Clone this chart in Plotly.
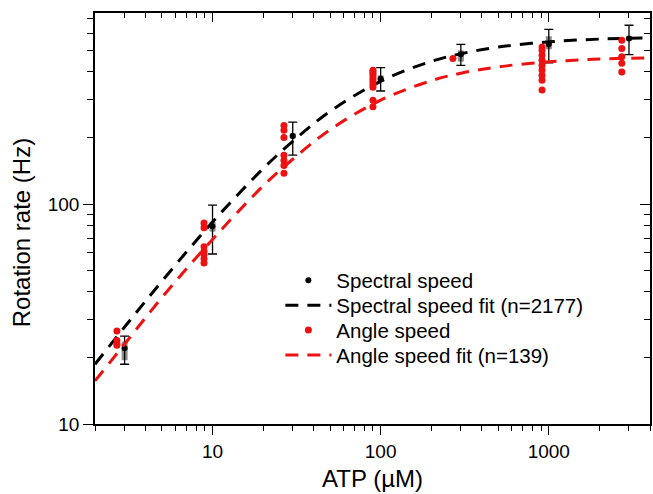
import plotly.graph_objects as go
import math

# ---------------- data ----------------
atp_spec = [3, 10, 30, 100, 300, 1000, 3000]
spec_mean = [22.1, 79.4, 204, 372, 481, 533, 566]
spec_err_plus = [3.0, 19.5, 32, 46, 52, 91, 85]
spec_err_minus = [3.4, 20.1, 37, 45, 53, 94, 87]
spec_spread_hi = [1.6, 3.6, 6, 13, 19, 47, 14]
spec_spread_lo = [2.6, 4.4, 5, 12, 36, 27, 11]

angle_atp = [2.7, 2.7, 2.7, 2.7,
             8.9, 8.9, 8.9, 8.9, 8.9, 8.9, 8.9,
             26.6, 26.6, 26.6, 26.6, 26.6, 26.6, 26.6,
             90, 90, 90, 90, 90, 90, 90, 90, 90, 90,
             269,
             912, 912, 912, 912, 912, 912, 912, 912, 912,
             2718, 2718, 2718, 2718, 2718]
angle_rate = [26.5, 24.0, 23.2, 22.8,
              82, 78, 64, 61, 59, 56.5, 54,
              228, 217, 201, 167, 158, 150, 138,
              406, 398, 390, 380, 370, 360, 350, 340, 297, 277,
              459,
              519, 501, 475, 451, 428, 407, 386, 366, 330,
              556, 510, 468, 437, 399]

fit_atp = [2, 3, 5, 10, 20, 30, 50, 100, 200, 300, 500, 1000, 2000, 4000]
spec_fit = [18.7, 27.6, 44.6, 82.9, 145, 193, 264, 362, 446, 483, 518, 547, 563, 571]
angle_fit = [15.7, 23.1, 37.6, 69.1, 121, 160, 218, 297, 364, 394, 421, 444, 457, 463]

x_ticks = [10, 100, 1000]
x_ticktext = ["10", "100", "1000"]
x_minor = [2, 3, 4, 5, 6, 7, 8, 9, 20, 30, 40, 50, 60, 70, 80, 90,
           200, 300, 400, 500, 600, 700, 800, 900, 2000, 3000, 4000]
y_ticks = [10, 100]
y_ticktext = ["10", "100"]
y_minor = [20, 30, 40, 50, 60, 70, 80, 90, 200, 300, 400, 500, 600, 700]

x_range = [math.log10(2), math.log10(4000)]
y_range = [1, math.log10(740)]

FONT = "Arial, Liberation Sans, sans-serif"
RED = "#ee1111"

fig = go.Figure()

# grey spread behind spectral mean
fig.add_trace(go.Scatter(
    x=atp_spec, y=spec_mean, mode="markers",
    marker=dict(size=1, color="rgba(0,0,0,0)"),
    error_y=dict(type="data", symmetric=False, array=spec_spread_hi,
                 arrayminus=spec_spread_lo, color="#8c8c8c", thickness=6, width=0),
    showlegend=False, hoverinfo="skip"))

fig.add_trace(go.Scatter(
    x=atp_spec, y=spec_mean, mode="markers", name="Spectral speed",
    legend="legend",
    marker=dict(size=6, color="black"),
    error_y=dict(type="data", symmetric=False, array=spec_err_plus,
                 arrayminus=spec_err_minus, color="black", thickness=1.3, width=4.5)))

fig.add_trace(go.Scatter(
    x=fit_atp, y=spec_fit, mode="lines", name="Spectral speed fit (n=2177)",
    legend="legend2", line=dict(color="black", width=3, dash="13px,9px", shape="spline")))

fig.add_trace(go.Scatter(
    x=angle_atp, y=angle_rate, mode="markers", name="Angle speed",
    legend="legend3", marker=dict(size=7, color=RED)))

fig.add_trace(go.Scatter(
    x=fit_atp, y=angle_fit, mode="lines", name="Angle speed fit (n=139)",
    legend="legend4", line=dict(color=RED, width=3, dash="13px,9px", shape="spline")))

# dummy trace for the mirrored (inside-tick) axes
fig.add_trace(go.Scatter(x=[], y=[], xaxis="x2", yaxis="y2",
                         showlegend=False, hoverinfo="skip"))


def leg(yc):
    return dict(x=0.334, y=yc, xanchor="left", yanchor="middle",
                bgcolor="rgba(0,0,0,0)", font=dict(size=20.5, family=FONT),
                itemwidth=46)


tick_common = dict(tickwidth=1.3, tickcolor="black")

fig.update_layout(
    width=653, height=494,
    margin=dict(l=95, r=1, t=13, b=70),
    paper_bgcolor="white", plot_bgcolor="white",
    font=dict(family=FONT, color="black"),
    xaxis=dict(type="log", range=x_range, showgrid=False, zeroline=False,
               showline=True, linecolor="black", linewidth=1.5, mirror=True,
               tickmode="array", tickvals=x_ticks, ticktext=x_ticktext,
               ticks="outside", ticklen=9, **tick_common,
               minor=dict(tickmode="array", tickvals=x_minor, ticks="outside",
                          ticklen=5, showgrid=False, **tick_common),
               tickfont=dict(size=19),
               title=dict(text="ATP (µM)", font=dict(size=24), standoff=10)),
    yaxis=dict(type="log", range=y_range, showgrid=False, zeroline=False,
               showline=True, linecolor="black", linewidth=1.5, mirror=True,
               tickmode="array", tickvals=y_ticks, ticktext=y_ticktext,
               ticks="outside", ticklen=10, **tick_common,
               minor=dict(tickmode="array", tickvals=y_minor, ticks="outside",
                          ticklen=6, showgrid=False, **tick_common),
               tickfont=dict(size=19)),
    xaxis2=dict(type="log", range=x_range, overlaying="x", side="top", anchor="y",
                showgrid=False, zeroline=False, showline=False, showticklabels=False,
                tickmode="array", tickvals=x_ticks, ticks="inside", ticklen=9,
                **tick_common,
                minor=dict(tickmode="array", tickvals=x_minor, ticks="inside",
                           ticklen=5, showgrid=False, **tick_common)),
    yaxis2=dict(type="log", range=y_range, overlaying="y", side="right", anchor="x",
                showgrid=False, zeroline=False, showline=False, showticklabels=False,
                tickmode="array", tickvals=y_ticks, ticks="inside", ticklen=10,
                **tick_common,
                minor=dict(tickmode="array", tickvals=y_minor, ticks="inside",
                           ticklen=6, showgrid=False, **tick_common)),
    legend=leg(0.3496),
    legend2=leg(0.2888),
    legend3=leg(0.2280),
    legend4=leg(0.1672),
    annotations=[dict(text="Rotation rate (Hz)", textangle=-90,
                      xref="paper", yref="paper", x=-0.1329, y=0.4647,
                      xanchor="center", yanchor="middle", showarrow=False,
                      font=dict(size=24, family=FONT, color="black"))],
    showlegend=True,
)

# remove the browser's default 8px body margin so the figure fills the window
fig.write_html("out.html",
               config={"displayModeBar": False},
               post_script="document.body.style.margin='0';"
                           "document.body.style.overflow='hidden';")
